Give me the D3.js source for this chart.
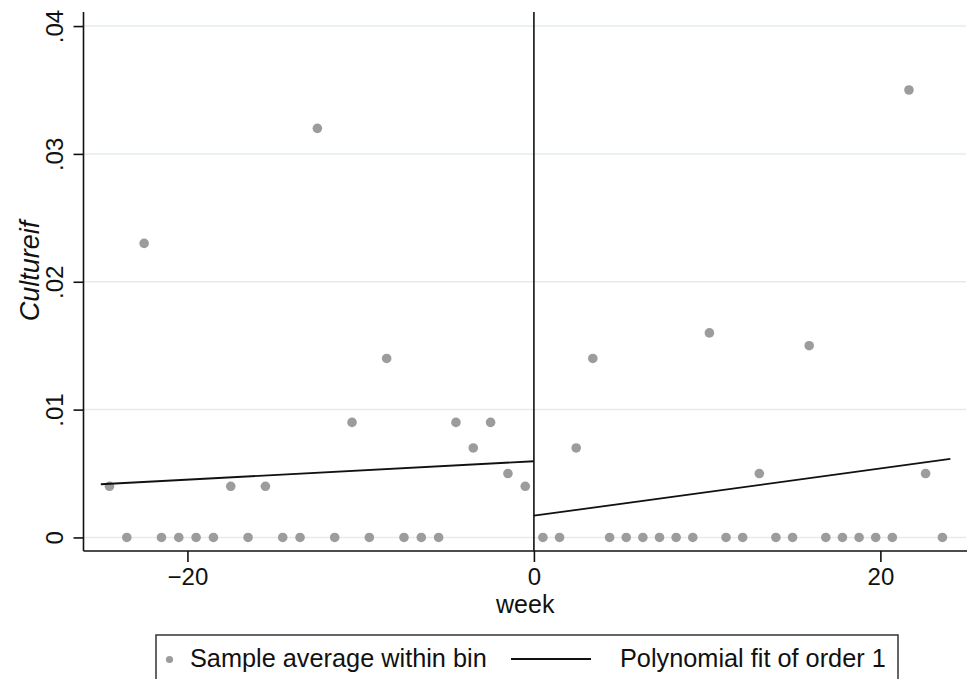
<!DOCTYPE html>
<html>
<head>
<meta charset="utf-8">
<script src="https://cdn.jsdelivr.net/npm/d3@7"></script>
<style>
  body { margin: 0; background: #fff; }
  svg { display: block; font-family: "Liberation Sans", Arial, Helvetica, sans-serif; }
  .grid line { stroke: #e2ecef; stroke-width: 1.5; }
</style>
</head>
<body>
<svg id="graphSvg" width="969" height="679"></svg>
<script>
// bin centres (weeks) and bin averages, left of the cutoff
var weeksLeft = [-24.5, -23.5, -22.5, -21.5, -20.5, -19.5, -18.5, -17.5, -16.5, -15.5,
                 -14.5, -13.5, -12.5, -11.5, -10.5, -9.5, -8.5, -7.5, -6.5, -5.5,
                 -4.5, -3.5, -2.5, -1.5, -0.5];
var valuesLeft = [0.004, 0, 0.023, 0, 0, 0, 0, 0.004, 0, 0.004,
                  0, 0, 0.032, 0, 0.009, 0, 0.014, 0, 0, 0,
                  0.009, 0.007, 0.009, 0.005, 0.004];

// right of the cutoff
var weeksRight = [0.52, 1.48, 2.44, 3.40, 4.37, 5.33, 6.29, 7.25, 8.21, 9.17,
                  10.13, 11.09, 12.05, 13.01, 13.97, 14.93, 15.89, 16.85, 17.81, 18.77,
                  19.73, 20.69, 21.65, 22.61, 23.58];
var valuesRight = [0, 0, 0.007, 0.014, 0, 0, 0, 0, 0, 0,
                   0.016, 0, 0, 0.005, 0, 0, 0.015, 0, 0, 0,
                   0, 0, 0.035, 0.005, 0];

// linear fits, end points
var fitLeft = [[-25, 0.00416], [0, 0.00596]];
var fitRight = [[0, 0.0017], [24.04, 0.00614]];

var xTicks = [-20, 0, 20];
var yTicks = [0, 0.01, 0.02, 0.03, 0.04];
var yTickLabels = ["0", ".01", ".02", ".03", ".04"];

var xLabel = "week",
    yLabel = "Cultureif",
    legendLabels = ["Sample average within bin", "Polynomial fit of order 1"];

(function() {
var svgg = d3.select("#graphSvg"),
    pLeft = 83.5, pRight = 967, pTop = 12, pBottom = 551;

var x = d3.scaleLinear().domain([-26, 25]).range([pLeft, pRight]),
    y = d3.scaleLinear().domain([-0.00106, 0.0411]).range([pBottom, pTop]);

var points = weeksLeft.map(function(w, i) { return {week: w, value: valuesLeft[i]}; })
  .concat(weeksRight.map(function(w, i) { return {week: w, value: valuesRight[i]}; }));

// grid lines
svgg.append("g")
    .attr("class", "grid")
  .selectAll("line")
  .data(yTicks)
  .enter().append("line")
    .attr("x1", pLeft)
    .attr("x2", pRight - 1)
    .attr("y1", function(d) { return y(d); })
    .attr("y2", function(d) { return y(d); });

// axes
var xAxis = d3.axisBottom(x).tickValues(xTicks).tickSize(11).tickPadding(6)
    .tickFormat(function(d) { return d < 0 ? "\u2212" + Math.abs(d) : d; });
var yAxis = d3.axisLeft(y).tickValues(yTicks).tickSize(10).tickPadding(4)
    .tickFormat(function(d, i) { return yTickLabels[i]; });

var gx = svgg.append("g")
    .attr("transform", "translate(0," + pBottom + ")")
    .call(xAxis);
gx.select(".domain").attr("d", "M" + pLeft + ",0H" + pRight);
gx.selectAll("text").style("font-size", "24px").attr("fill", "#111");

var gy = svgg.append("g")
    .attr("transform", "translate(" + pLeft + ",0)")
    .call(yAxis);
gy.select(".domain").attr("d", "M0," + pTop + "V" + pBottom);
gy.selectAll("text")
    .style("font-size", "24px")
    .attr("fill", "#111")
    .attr("text-anchor", "middle")
    .attr("x", null)
    .attr("dy", null)
    .attr("transform", "translate(-21,0) rotate(-90)");

svgg.selectAll(".domain, .tick line").attr("stroke", "#111").attr("stroke-width", 1.6);

// cutoff line
svgg.append("line")
    .attr("x1", x(0)).attr("x2", x(0))
    .attr("y1", pTop).attr("y2", pBottom)
    .attr("stroke", "#111")
    .attr("stroke-width", 1.6);

// bin averages
svgg.append("g").selectAll("circle")
  .data(points)
  .enter().append("circle")
    .attr("cx", function(d) { return x(d.week); })
    .attr("cy", function(d) { return y(d.value); })
    .attr("r", 4.8)
    .attr("fill", "#9c9c9c");

// fitted lines
var line = d3.line()
    .x(function(d) { return x(d[0]); })
    .y(function(d) { return y(d[1]); });

svgg.selectAll(".fit")
  .data([fitLeft, fitRight])
  .enter().append("path")
    .attr("class", "fit")
    .attr("d", line)
    .attr("fill", "none")
    .attr("stroke", "#111")
    .attr("stroke-width", 1.8);

// axis titles
svgg.append("text")
    .attr("x", (pLeft + pRight) / 2)
    .attr("y", 613)
    .attr("text-anchor", "middle")
    .style("font-size", "25px")
    .attr("fill", "#111")
    .text(xLabel);

svgg.append("text")
    .attr("transform", "translate(39,271) rotate(-90)")
    .attr("text-anchor", "middle")
    .style("font-size", "27px")
    .style("font-style", "italic")
    .attr("fill", "#111")
    .text(yLabel);

// legend
var legend = svgg.append("g");
legend.append("rect")
    .attr("x", 156).attr("y", 635)
    .attr("width", 742).attr("height", 60)
    .attr("fill", "#fff")
    .attr("stroke", "#333")
    .attr("stroke-width", 1.5);
legend.append("circle")
    .attr("cx", 169.5).attr("cy", 659.5)
    .attr("r", 3.6)
    .attr("fill", "#9c9c9c");
legend.append("text")
    .attr("x", 190).attr("y", 667)
    .style("font-size", "25.3px")
    .attr("fill", "#111")
    .text(legendLabels[0]);
legend.append("line")
    .attr("x1", 511).attr("x2", 591)
    .attr("y1", 659).attr("y2", 659)
    .attr("stroke", "#111")
    .attr("stroke-width", 1.8);
legend.append("text")
    .attr("x", 620).attr("y", 667)
    .style("font-size", "25.3px")
    .attr("fill", "#111")
    .text(legendLabels[1]);
})();
</script>
</body>
</html>
